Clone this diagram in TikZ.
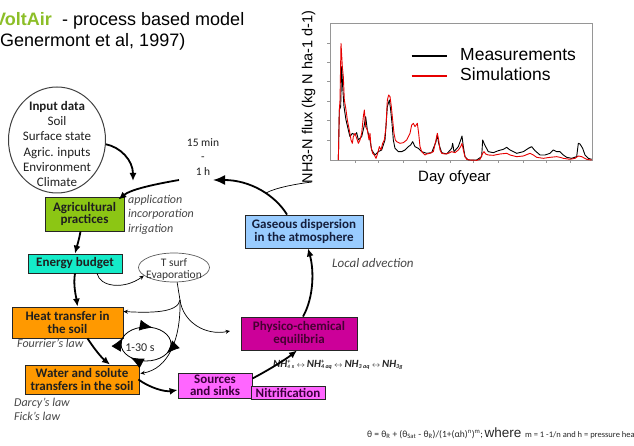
\documentclass[tikz,border=0pt]{standalone}
\usepackage{fontspec}
\setmainfont{Carlito}
\newfontfamily\arial{Liberation Sans}
\usetikzlibrary{arrows.meta,decorations.markings,calc,shapes.geometric}

\definecolor{agrig}{RGB}{140,198,20}
\definecolor{energ}{RGB}{20,235,200}
\definecolor{orng}{RGB}{255,153,0}
\definecolor{pinkm}{RGB}{255,102,255}
\definecolor{magd}{RGB}{204,0,153}
\definecolor{lblue}{RGB}{153,204,255}
\definecolor{titleg}{RGB}{140,190,40}
\definecolor{labg}{RGB}{70,70,70}
\definecolor{chred}{RGB}{230,0,0}
\definecolor{frameg}{RGB}{150,150,150}

\begin{document}
\begin{tikzpicture}[x=1pt,y=-1pt,
  box/.style={draw=black!85, line width=0.8pt, inner sep=0pt, align=center, text=black!88,
    font=\bfseries\fontsize{13}{12.5}\selectfont},
  thk/.style={line width=1.8pt, -{Latex[length=8pt,width=7pt]}},
  thn/.style={line width=0.7pt, -{Stealth[length=4.5pt,width=4pt]}},
  lab/.style={font=\itshape\fontsize{12}{14.5}\selectfont, text=labg, inner sep=0pt, anchor=west, align=left},
]
\clip (0,0) rectangle (634,446);

% ---------- title ----------
\node[anchor=base west, inner sep=0, text=titleg, font=\arial\bfseries\fontsize{18}{20}\selectfont] (t1) at (-6,26) {VoltAir};
\node[anchor=base west, inner sep=0, font=\arial\fontsize{18}{20}\selectfont] (t2) at (62,26) {- process based model};
\node[anchor=base west, inner sep=0, font=\arial\fontsize{18}{20}\selectfont] (t3) at (-6,47) {(Genermont et al, 1997)};

% ---------- chart ----------
\begin{scope}[shift={(290,0)}, x=0.33333pt, y=-0.33333pt]
  \draw[frameg, line width=0.6pt] (120,70) rectangle (908,482);
  \foreach \yy in {130,187,245,303,360,420} \draw[frameg, line width=0.6pt] (112,\yy) -- (120,\yy);
  \foreach \xx in {195,265,340,410,480,550,625,700,770,840} \draw[frameg, line width=0.6pt] (\xx,482) -- (\xx,490);
  \draw[black, line width=0.9pt, line join=round] plot coordinates {
   (145,480) (148,330) (152,320) (155,200) (158,260) (162,320) (168,360) (175,390) (180,410) (187,400)
   (195,405) (200,398) (205,420) (215,410) (222,380) (227,350) (232,390) (240,420) (245,450) (255,465)
   (265,455) (275,450) (285,420) (292,320) (298,300) (302,330) (306,370) (310,420) (315,445) (325,455)
   (335,455) (345,450) (355,440) (362,435) (368,425) (375,440) (385,445) (395,455) (410,460) (425,458)
   (438,425) (442,405) (446,430) (455,458) (470,462) (485,445) (488,430) (492,455) (505,440) (512,420)
   (516,408) (520,440) (525,470) (535,480) (560,480) (575,470) (578,420) (582,430) (587,440) (595,455)
   (610,458) (625,452) (640,448) (650,442) (660,450) (680,460) (700,455) (715,445) (725,440) (735,452)
   (750,465) (765,465) (780,460) (790,450) (800,455) (810,455) (820,465) (830,472) (845,475) (860,470)
   (865,430) (870,432) (878,445) (885,465) (895,475) (905,478)};
  \draw[chred, line width=0.9pt, line join=round] plot coordinates {
   (145,480) (148,330) (150,300) (153,130) (157,200) (160,230) (163,300) (168,330) (172,360) (178,390)
   (183,420) (187,430) (190,410) (195,400) (200,415) (205,430) (210,420) (215,400) (220,350) (223,330)
   (227,380) (232,390) (237,420) (240,400) (243,440) (248,460) (253,465) (258,475) (263,460) (268,440)
   (273,450) (278,430) (283,420) (288,380) (292,300) (296,285) (300,290) (304,320) (308,360) (312,400)
   (316,420) (320,425) (330,430) (340,428) (350,420) (360,400) (365,375) (370,370) (375,380) (382,370)
   (386,400) (390,440) (395,455) (400,460) (405,465) (410,462) (420,460) (430,455) (438,420) (442,400)
   (446,420) (450,450) (455,460) (465,462) (475,460) (485,455) (495,458) (505,450) (512,440) (516,430)
   (520,450) (525,470) (530,478) (540,480) (560,481) (570,478) (578,460) (582,455) (587,462) (595,465)
   (610,466) (630,462) (650,460) (660,465) (680,470) (700,468) (720,460) (730,465) (740,472) (760,475)
   (780,472) (800,470) (810,472) (820,475) (840,478) (855,475) (865,468) (875,470) (890,478) (905,480)};
  \draw[black, line width=2pt] (365,168) -- (470,168);
  \draw[chred, line width=2pt] (365,228) -- (470,228);
\end{scope}
\node[anchor=base west, inner sep=0, font=\arial\fontsize{17.5}{19}\selectfont] (lm) at (460,61) {Measurements};
\node[anchor=base west, inner sep=0, font=\arial\fontsize{17.5}{19}\selectfont] (ls) at (460,81) {Simulations};
\node[anchor=base west, inner sep=0, font=\arial\fontsize{15}{16}\selectfont] (lx) at (418,182) {Day ofyear};
\node[rotate=90, inner sep=0, font=\arial\fontsize{14.5}{16}\selectfont] (ly) at (308.5,97) {NH3-N flux (kg N ha-1 d-1)};

% ---------- diagram nodes ----------
\node[draw=black!75, line width=1pt, ellipse, minimum width=97pt, minimum height=106pt, inner sep=0] (input) at (57,140) {};
\node[align=center, inner sep=0, text=black!88, font=\fontsize{13}{15.2}\selectfont] (inputtxt) at (57,144) {\textbf{Input data}\\Soil\\Surface state\\Agric. inputs\\Environment\\Climate};

\node[align=center, inner sep=0, text=black!88, font=\fontsize{11.5}{14.5}\selectfont] (time) at (203,157) {15 min\\-\\1 h};

\node[box, fill=agrig, minimum width=79pt, minimum height=34pt] (agri) at (84.5,214) {Agricultural\\practices};
\node[lab] (appl) at (128,214.5) {application\\incorporation\\irrigation};

\node[box, fill=energ, minimum width=94pt, minimum height=19pt] (energy) at (75,263.5) {Energy budget};

\node[draw=black!65, line width=0.7pt, ellipse, minimum width=71pt, minimum height=29pt, inner sep=0] (tsurf) at (174,267.5) {};
\node[align=center, inner sep=0, text=black!80, font=\fontsize{11.5}{12}\selectfont] (tsurftxt) at (174,269) {T surf\\Evaporation};

\node[box, fill=orng, minimum width=111pt, minimum height=31pt] (heat) at (67.5,322.5) {Heat transfer in\\the soil};
\node[lab] (fourier) at (17,343) {Fourrier’s law};

\node[box, fill=orng, minimum width=114pt, minimum height=29pt] (water) at (82,379.5) {Water and solute\\transfers in the soil};
\node[lab, font=\itshape\fontsize{12}{14}\selectfont] (darcy) at (14,409) {Darcy’s law\\Fick’s law};

\node[inner sep=0, text=black!85, font=\fontsize{12}{14}\selectfont] (cyc) at (140,348) {1-30 s};

\node[box, fill=pinkm, minimum width=74pt, minimum height=25pt, text={rgb,255:red,60;green,0;blue,60}] (sources) at (215,385.5) {Sources\\and sinks};
\node[box, fill=pinkm, minimum width=74pt, minimum height=13pt, text={rgb,255:red,60;green,0;blue,60}] (nitri) at (288,392.5) {Nitrification};

\node[box, fill=magd, minimum width=116pt, minimum height=33pt, text={rgb,255:red,70;green,0;blue,50}] (physico) at (299,333.5) {Physico-chemical\\equilibria};

\node[box, fill=lblue, minimum width=118pt, minimum height=33pt, text={rgb,255:red,20;green,30;blue,60}] (gas) at (304,231.5) {Gaseous dispersion\\in the atmosphere};
\node[lab, font=\itshape\fontsize{13}{14}\selectfont] (adv) at (332,263) {Local advection};

\node[anchor=west, inner sep=0, text=black!85, font=\itshape\bfseries\fontsize{11}{12}\selectfont] (eq) at (273,365)
  {NH\rlap{\fontsize{6}{6}\selectfont\textsubscript{4}}\textsuperscript{\fontsize{6}{6}\selectfont+}\textsubscript{\fontsize{6}{6}\selectfont\,s}\,{\fontsize{8}{8}\selectfont$\leftrightarrow$}\,NH\rlap{\textsubscript{\fontsize{6}{6}\selectfont4}}\textsuperscript{\fontsize{6}{6}\selectfont+}\textsubscript{\fontsize{6}{6}\selectfont\,aq}\,{\fontsize{8}{8}\selectfont$\leftrightarrow$}\,NH\textsubscript{\fontsize{6}{6}\selectfont3 aq}\,{\fontsize{8}{8}\selectfont$\leftrightarrow$}\,NH\textsubscript{\fontsize{6}{6}\selectfont3g}};

\node[anchor=base west, inner sep=0, text=black!85] (formula) at (367,437)
  {{\fontsize{9.5}{10}\selectfont θ = θ\textsubscript{R} + (θ\textsubscript{Sat} - θ\textsubscript{R})/(1+(αh)\textsuperscript{n})\textsuperscript{m};\,}{\arial\fontsize{13.5}{14}\selectfont where }{\fontsize{8.5}{9}\selectfont m = 1 -1/n and h = pressure head}};

% ---------- connectors ----------
\coordinate (c1) at (133,181);
\coordinate (c2) at (179,180);
\draw[thk] (input.-5) .. controls (120,147) and (133,160) .. (c1);
\draw[thk] (c2) .. controls (150,185) and (130,190) .. ($(agri.north east)+(-6,3)$);
\draw[thk] ($(agri.south)+(-4,0)$) .. controls (79,240) and (77,246) .. (energy.north);
\draw[thk] (energy.south) .. controls (73,285) and (76,296) .. ($(heat.north)+(10,0)$);
\draw[thn] ($(energy.south)+(22,0)$) .. controls (100,287) and (124,290) .. (tsurf.195);

\coordinate (j) at (180,300);
\draw[line width=0.7pt] (tsurf.-78) -- (j);
\draw[thn] (j) .. controls (178,313) and (150,313) .. ($(heat.east)+(0,-11)$);
\draw[thn] (j) .. controls (183,322) and (205,336) .. (230,331);
\draw[thn] (j) .. controls (181,340) and (168,369) .. ($(water.east)+(1,-6)$);

\draw[thk] ($(heat.south)+(20,0)$) .. controls (95,350) and (102,358) .. ($(water.north)+(28,0)$);
\draw[thk] ($(water.east)+(-1,0)$) .. controls (150,388) and (165,392) .. ($(sources.west)+(0,4.5)$);
\draw[thk] ($(sources.east)+(0,-7)$) .. controls (265,372) and (285,360) .. ($(physico.south)+(-2,0)$);
\draw[thk] ($(physico.north)+(4,0)$) .. controls (314,297) and (314,270) .. ($(gas.south)+(4,0)$);
\draw[line width=1.8pt, -{Latex[length=12pt,width=10pt]}] ($(gas.north)+(-17,0)$) .. controls (275,195) and (250,180) .. (213,180);
\draw[line width=0.7pt] (312,182) .. controls (295,184) and (275,188) .. (266,193);

% cycle arrows (clockwise)
\draw[line width=0.8pt, postaction={decorate}, decoration={markings,
   mark=at position 0.08 with {\arrow{Latex[length=13pt,width=11pt]}},
   mark=at position 0.37 with {\arrow{Latex[length=13pt,width=11pt]}},
   mark=at position 0.55 with {\arrow{Latex[length=13pt,width=11pt]}},
   mark=at position 0.80 with {\arrow{Latex[length=13pt,width=11pt]}}}]
  ($(146,344)+(0:25 and 17)$) arc[start angle=0, end angle=360, x radius=25, y radius=17];
\end{tikzpicture}
\end{document}
